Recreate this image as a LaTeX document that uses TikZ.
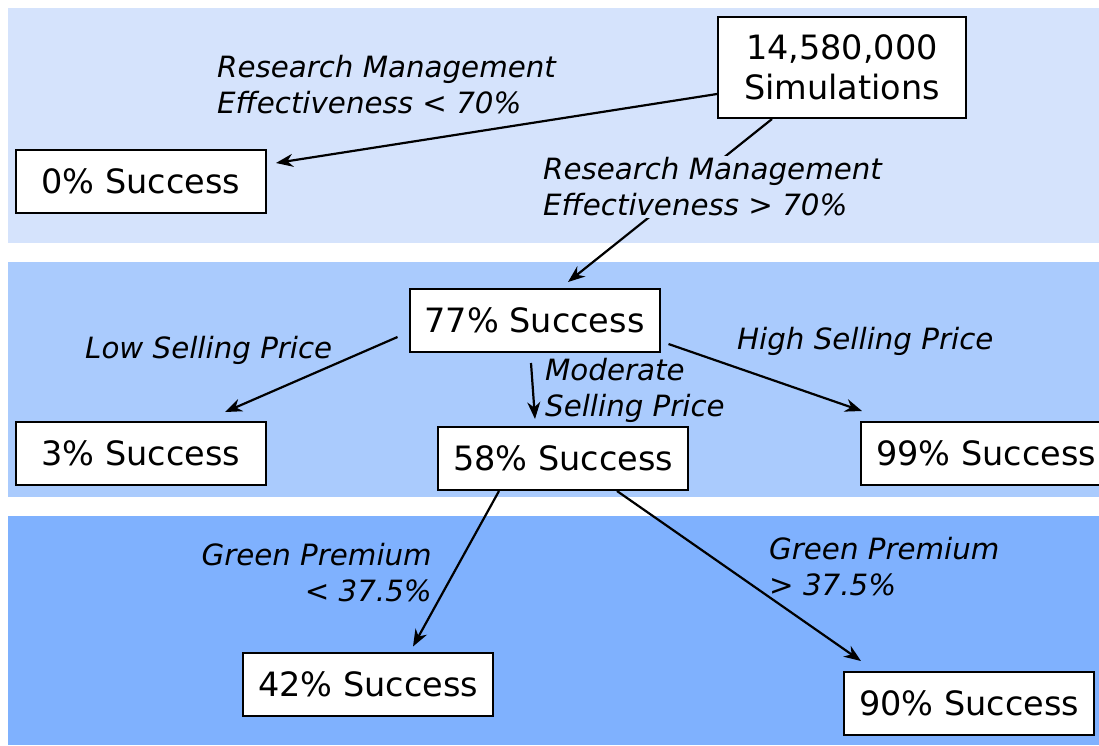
\documentclass[tikz,border=0pt]{standalone}
\usepackage{fontspec}
\setmainfont{DejaVu Sans}
\usetikzlibrary{arrows.meta}
\definecolor{bandA}{RGB}{213,227,252}
\definecolor{bandB}{RGB}{170,203,253}
\definecolor{bandC}{RGB}{127,177,254}
\begin{document}
\begin{tikzpicture}[x=1pt,y=-1pt,
  result/.style={draw=black,line width=2pt,fill=white,inner sep=0pt,
    minimum width=250pt,minimum height=63pt,font=\fontsize{33.5}{40}\selectfont},
  cond/.style={inner sep=0pt,font=\fontsize{29.3}{36}\selectfont\itshape},
  link/.style={line width=2.2pt,-{Stealth[length=17pt,width=13pt,inset=5.5pt]}}]
\useasboundingbox (0,0) rectangle (1099,745);
\fill[white] (0,0) rectangle (1099,745);
% three horizontal bands
\fill[bandA] (8,8) rectangle (1099,243);
\fill[bandB] (8,262) rectangle (1099,497);
\fill[bandC] (8,516) rectangle (1099,745);
% outcome boxes
\node[result,minimum width=248pt,minimum height=101pt,align=center] (sim) at (842,67.5) {14,580,000\\Simulations};
\node[result] (n0) at (141,181.5) {0\% Success};
\node[result] (n77) at (534.5,320.5) {77\% Success};
\node[result] (n3) at (141,453.5) {3\% Success};
\node[result] (n58) at (563,458.5) {58\% Success};
\node[result,anchor=west] (n99) at (860,453.5) {99\% Success};
\node[result] (n42) at (368,684) {42\% Success};
\node[result] (n90) at (969,703.5) {90\% Success};
% branches
\draw[link] ([yshift=-26.5pt]sim.west) -- ([xshift=9pt,yshift=18.5pt]n0.east);
\draw[link] ([xshift=-70pt]sim.south) -- ([xshift=33.5pt,yshift=6pt]n77.north);
\draw[link] ([xshift=-11pt,yshift=-16.5pt]n77.west) -- ([xshift=84pt,yshift=9pt]n3.north);
\draw[link] ([xshift=-3.5pt,yshift=-10pt]n77.south) -- ([xshift=-28pt,yshift=7pt]n58.north);
\draw[link] ([xshift=8pt,yshift=-23.5pt]n77.east) -- ([xshift=2pt,yshift=10pt]n99.north west);
\draw[link] ([xshift=-64pt]n58.south) -- ([xshift=45pt,yshift=5pt]n42.north);
\draw[link] ([xshift=54pt]n58.south) -- ([xshift=18pt,yshift=10pt]n90.north west);
% branch conditions
\node[cond,anchor=west,align=left] (c1) at (217,85) {Research Management\\Effectiveness < 70\%};
\node[cond,anchor=west,align=left,fill=bandA,inner sep=2pt] (c2) at (541,187) {Research Management\\Effectiveness > 70\%};
\node[cond,anchor=west] (c3) at (85,350) {Low Selling Price};
\node[cond,anchor=west,align=left] (c4) at (545,390) {Moderate\\Selling Price};
\node[cond,anchor=west] (c5) at (737,341) {High Selling Price};
\node[cond,anchor=east,align=right] (c6) at (432,573) {Green Premium\\< 37.5\%};
\node[cond,anchor=west,align=left] (c7) at (769,567) {Green Premium\\> 37.5\%};
\end{tikzpicture}
\end{document}
